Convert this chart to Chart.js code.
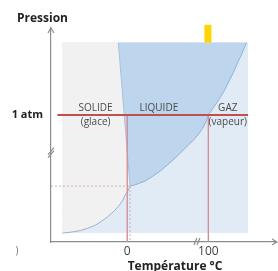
<!DOCTYPE html>
<html>
<head>
<meta charset="utf-8">
<style>
  html, body { margin: 0; padding: 0; background: #fff; }
  canvas { display: block; }
</style>
</head>
<body>
<canvas id="diagramme" width="278" height="271"></canvas>
<script src="https://cdn.jsdelivr.net/npm/chart.js"></script>
<script>
    // Axes : température en °C, pression en unités relatives (1 atm = 1)
    const ticksTemperature = [0, 100];
    const ticksPression = [1];
    const etiquettePression = '1 atm';

    // Domaine grisé du diagramme
    const domaineT = [-80, 149];
    const domaineP = [0.07, 1.57];

    // Point triple
    const tripleT = 3.5;
    const tripleP = 0.44;

    // Courbe de fusion (solide / liquide)
    const fusionT = [-11, 3.5];
    const fusionP = [1.57, 0.44];

    // Courbe de vaporisation (liquide / gaz)
    const vaporT = [3.5, 12, 22, 31, 41, 50, 59, 67, 75, 82, 88, 93, 97, 100, 107, 114, 120, 125, 131, 136, 142, 147];
    const vaporP = [0.44, 0.455, 0.48, 0.515, 0.56, 0.61, 0.66, 0.71, 0.76, 0.805, 0.85, 0.895, 0.945, 1.0, 1.065, 1.13, 1.195, 1.26, 1.335, 1.41, 1.49, 1.57];

    // Courbe de sublimation (solide / gaz)
    const sublimT = [-80, -69, -58, -49, -40, -32, -24, -17, -11, -6, -2.5, 1, 3.5];
    const sublimP = [0.07, 0.078, 0.09, 0.108, 0.13, 0.162, 0.2, 0.238, 0.28, 0.322, 0.37, 0.405, 0.44];

    // Ligne 1 atm et repères 0 / 100 °C
    const ligneAtmT = [-86, 149];
    const reperesT = [0, 100];

    // Marqueur jaune en haut
    const marqueurT = 99.5;
    const marqueurP = [1.57, 1.71];

    // Étiquettes des zones
    const zones = [
        { texte: 'SOLIDE', t: -39, p: 1.055 },
        { texte: '(glace)', t: -39, p: 0.945 },
        { texte: 'LIQUIDE', t: 39, p: 1.055 },
        { texte: 'GAZ', t: 124, p: 1.055 },
        { texte: '(vapeur)', t: 124, p: 0.945 }
    ];

    function points(ts, ps) {
        return ts.map((t, i) => ({ x: t, y: ps[i] }));
    }

    const gazZone = [
        { x: domaineT[0], y: domaineP[1] }, { x: domaineT[1], y: domaineP[1] },
        { x: domaineT[1], y: domaineP[0] }, { x: domaineT[0], y: domaineP[0] }
    ];
    const solideZone = [{ x: domaineT[0], y: domaineP[1] }]
        .concat(points(fusionT, fusionP))
        .concat(points(sublimT, sublimP).reverse());
    const liquideZone = [{ x: fusionT[0], y: fusionP[0] }]
        .concat(points(vaporT, vaporP).reverse());

    function trait(data, couleur, largeur, ordre, extra) {
        return Object.assign({
            data: data,
            showLine: true,
            borderColor: couleur,
            borderWidth: largeur,
            pointRadius: 0,
            fill: false,
            order: ordre
        }, extra || {});
    }

    const textes = {
        id: 'textes',
        afterDraw(chart) {
            const ctx = chart.ctx;
            const x = chart.scales.x, y = chart.scales.y;
            const a = chart.chartArea;
            ctx.save();
            // flèches des axes
            ctx.strokeStyle = '#8c8c8c';
            ctx.lineWidth = 1.2;
            ctx.beginPath();
            ctx.moveTo(a.right, a.bottom); ctx.lineTo(a.right + 3, a.bottom);
            ctx.moveTo(a.right - 2, a.bottom - 3); ctx.lineTo(a.right + 3, a.bottom); ctx.lineTo(a.right - 2, a.bottom + 3);
            ctx.moveTo(a.left - 3, a.top + 5); ctx.lineTo(a.left, a.top); ctx.lineTo(a.left + 3, a.top + 5);
            ctx.stroke();
            // coupures d'axes
            const by = y.getPixelForValue(0.72);
            const bx = x.getPixelForValue(86);
            ctx.beginPath();
            ctx.moveTo(a.left - 3, by + 4); ctx.lineTo(a.left + 3, by - 3);
            ctx.moveTo(a.left - 3, by + 7); ctx.lineTo(a.left + 3, by);
            ctx.moveTo(bx - 3, a.bottom + 3); ctx.lineTo(bx, a.bottom - 4);
            ctx.moveTo(bx, a.bottom + 3); ctx.lineTo(bx + 3, a.bottom - 4);
            ctx.stroke();

            ctx.textAlign = 'center';
            ctx.textBaseline = 'middle';
            ctx.fillStyle = '#4a4a4a';
            ctx.font = '10px "Open Sans"';
            zones.forEach(z => {
                ctx.fillText(z.texte, x.getPixelForValue(z.t), y.getPixelForValue(z.p));
            });
            ctx.fillStyle = '#222';
            ctx.font = 'bold 12px "Open Sans"';
            ctx.textAlign = 'left';
            ctx.fillText('Pression', 17, 19);
            ctx.textAlign = 'center';
            ctx.fillText('Température °C', 175, 267);
            ctx.fillStyle = '#777';
            ctx.font = '10px "Open Sans"';
            ctx.fillText(')', 17, 251);
            ctx.restore();
        }
    };

    function crearDiagramme() {
        const ctx = document.getElementById('diagramme').getContext('2d');
        new Chart(ctx, {
            type: 'scatter',
            data: {
                datasets: [
                    trait(gazZone, 'rgba(0,0,0,0)', 0, 10, { fill: 'shape', backgroundColor: '#e1ebf6' }),
                    trait(solideZone, 'rgba(0,0,0,0)', 0, 9, { fill: 'shape', backgroundColor: '#f1f1f2' }),
                    trait(liquideZone, 'rgba(0,0,0,0)', 0, 9, { fill: 'shape', backgroundColor: '#bdd5ed' }),
                    trait(points(sublimT, sublimP), '#9fb2c6', 1, 6),
                    trait(points(vaporT, vaporP), '#92b2d3', 1, 6),
                    trait(points(fusionT, fusionP), '#a9c1da', 1, 6),
                    trait([{ x: ligneAtmT[0] - 8, y: tripleP }, { x: tripleT, y: tripleP }], '#d6aab4', 1, 5, { borderDash: [2, 2] }),
                    trait([{ x: tripleT, y: tripleP }, { x: tripleT, y: 0 }], '#d6aab4', 1, 5, { borderDash: [2, 2] }),
                    trait([{ x: reperesT[0], y: 1 }, { x: reperesT[0], y: 0 }], '#d48890', 1.3, 4),
                    trait([{ x: reperesT[1], y: 1 }, { x: reperesT[1], y: 0 }], '#d48890', 1.3, 4),
                    trait(points(ligneAtmT, [1, 1]), '#c0504d', 2, 3),
                    trait([{ x: marqueurT, y: marqueurP[0] }, { x: marqueurT, y: marqueurP[1] }], '#ffd400', 7, 1, { clip: false })
                ]
            },
            options: {
                responsive: false,
                animation: false,
                layout: { padding: { top: 28, right: 4, left: 0, bottom: 0 } },
                plugins: { legend: { display: false }, tooltip: { enabled: false } },
                elements: { line: { tension: 0 } },
                scales: {
                    x: {
                        type: 'linear',
                        min: -94,
                        max: 181,
                        afterBuildTicks: s => { s.ticks = ticksTemperature.map(v => ({ value: v })); },
                        afterFit: s => { s.height = 29; },
                        grid: { display: false, drawTicks: false },
                        border: { display: true, color: '#8c8c8c', width: 1.2 },
                        ticks: { padding: 2, autoSkip: false, maxRotation: 0, color: '#404040', font: { family: 'Open Sans', size: 12 } }
                    },
                    y: {
                        type: 'linear',
                        min: 0,
                        max: 1.685,
                        afterBuildTicks: s => { s.ticks = ticksPression.map(v => ({ value: v })); },
                        afterFit: s => { s.width = 51; },
                        grid: { display: false, drawTicks: false },
                        border: { display: true, color: '#8c8c8c', width: 1.2 },
                        ticks: { padding: 8, color: '#222', font: { family: 'Open Sans', size: 11, weight: 'bold' }, callback: () => etiquettePression }
                    }
                }
            },
            plugins: [textes]
        });
    }

    crearDiagramme();
</script>
</body>
</html>
